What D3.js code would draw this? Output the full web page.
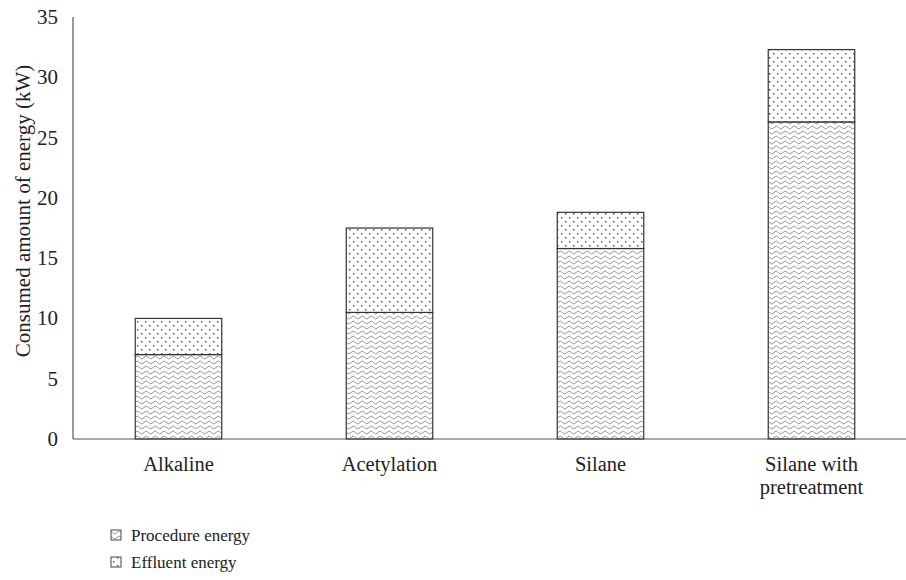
<!DOCTYPE html>
<html><head><meta charset="utf-8">
<script src="https://cdn.jsdelivr.net/npm/d3@7"></script>
<style>body{margin:0;background:#fff}svg{display:block}</style>
</head><body><svg id="c" width="906" height="580"></svg>
<script>
const categories = [["Alkaline"],["Acetylation"],["Silane"],["Silane with","pretreatment"]];
const procedure = [7.0, 10.5, 15.8, 26.3];
const effluent = [3.0, 7.0, 3.0, 6.0];
const yTicks = [0,5,10,15,20,25,30,35];
const seriesNames = ["Procedure energy","Effluent energy"];

const FONT = '"Liberation Serif", "Times New Roman", serif';
const svg = d3.select("#c");
const defs = svg.append("defs");
const wave = defs.append("pattern").attr("id","wave").attr("patternUnits","userSpaceOnUse").attr("width",9).attr("height",5);
wave.append("rect").attr("width",9).attr("height",5).attr("fill","#fff");
wave.append("path").attr("d","M0,2.5 Q2.25,-0.5 4.5,2.5 T9,2.5").attr("fill","none").attr("stroke","#8a8a8a").attr("stroke-width",0.9);
const dots = defs.append("pattern").attr("id","dots").attr("patternUnits","userSpaceOnUse").attr("width",8).attr("height",8);
dots.append("rect").attr("width",8).attr("height",8).attr("fill","#fff");
dots.append("rect").attr("x",1).attr("y",1).attr("width",1.5).attr("height",1.5).attr("fill","#5a5a5a");
dots.append("rect").attr("x",5).attr("y",5).attr("width",1.5).attr("height",1.5).attr("fill","#5a5a5a");

const x = d3.scaleBand().domain(d3.range(categories.length)).range([73,917]).paddingInner(0.59).paddingOuter(0.295);
const y = d3.scaleLinear().domain([0,35]).range([439,17]);

const g = svg.append("g");
procedure.forEach((p,i)=>{
  g.append("rect").attr("x",x(i)).attr("width",x.bandwidth()).attr("y",y(p)).attr("height",y(0)-y(p))
    .attr("fill","url(#wave)").attr("stroke","#333").attr("stroke-width",1.2);
  const t = p+effluent[i];
  g.append("rect").attr("x",x(i)).attr("width",x.bandwidth()).attr("y",y(t)).attr("height",y(p)-y(t))
    .attr("fill","url(#dots)").attr("stroke","#333").attr("stroke-width",1.2);
});

svg.append("line").attr("x1",73).attr("x2",73).attr("y1",y(35)).attr("y2",y(0)).attr("stroke","#555").attr("stroke-width",1.2);
svg.append("line").attr("x1",73).attr("x2",906).attr("y1",y(0)).attr("y2",y(0)).attr("stroke","#555").attr("stroke-width",1.2);
svg.selectAll(".yt").data(yTicks).enter().append("text").attr("x",58).attr("y",d=>y(d)+7)
  .attr("text-anchor","end").style("font-family",FONT).style("font-size","21px").attr("fill","#222").text(d=>d);
categories.forEach((c,i)=>{
  const cx = x(i)+x.bandwidth()/2;
  const t = svg.append("text").attr("text-anchor","middle").style("font-family",FONT).style("font-size","20.5px").attr("fill","#222")
    .attr("x",cx).attr("y",471);
  c.forEach((line,k)=>t.append("tspan").attr("x",cx).attr("dy",k?23:0).text(line));
});
svg.append("text").attr("transform","translate(30,211) rotate(-90)").attr("text-anchor","middle")
  .style("font-family",FONT).style("font-size","21px").attr("fill","#222").text("Consumed amount of energy (kW)");

const fills = ["url(#wave)","url(#dots)"];
seriesNames.forEach((n,i)=>{
  const ly = 541 + i*27;
  svg.append("rect").attr("x",111).attr("y",ly-11).attr("width",10).attr("height",10)
    .attr("fill",fills[i]).attr("stroke","#444").attr("stroke-width",1);
  svg.append("text").attr("x",131).attr("y",ly).style("font-family",FONT).style("font-size","17px").attr("fill","#222").text(n);
});
</script></body></html>
